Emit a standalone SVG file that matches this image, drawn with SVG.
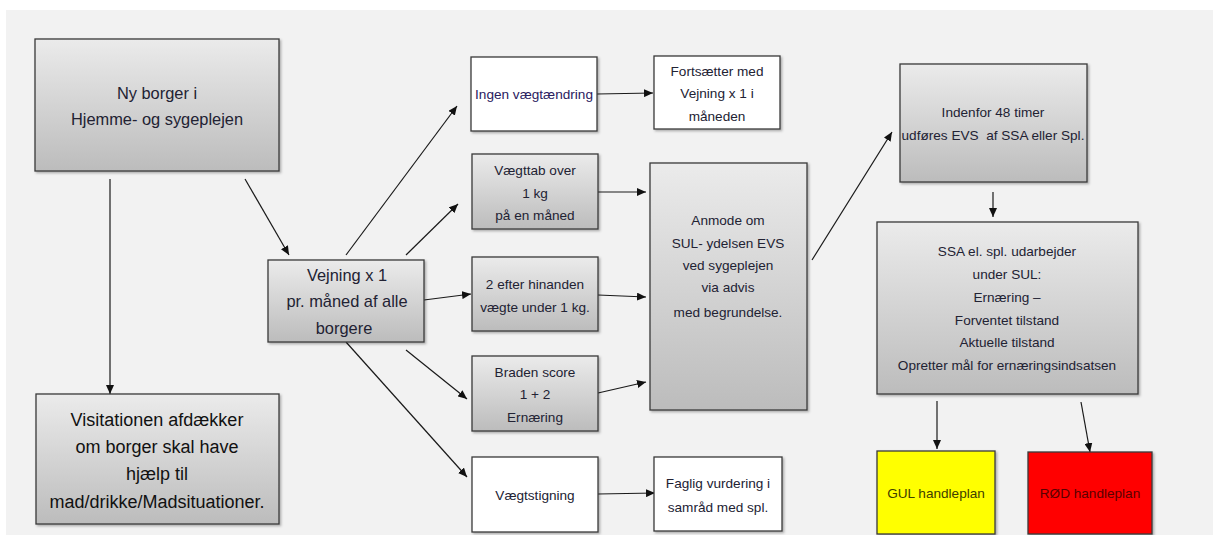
<svg xmlns="http://www.w3.org/2000/svg" width="1213" height="535" viewBox="0 0 1213 535">
<style>
.bg{fill:#f2f2f2}
.box{stroke:#3a3a3a;stroke-width:1.3;filter:url(#sh)}
.g{fill:url(#grad)}
.w{fill:#ffffff}
.t{font-family:"Liberation Sans",Arial,sans-serif;font-size:13.6px;fill:#222233;text-anchor:middle;dominant-baseline:central}
.big{font-size:16.4px}
.ar{font-size:18px;fill:#111111}
.conn line{stroke:#1a1a1a;stroke-width:1.2;fill:none}
.arr{marker-end:url(#ah)}
</style>
<defs>
<linearGradient id="grad" x1="0" y1="0" x2="0" y2="1">
<stop offset="0" stop-color="#ebebeb"/>
<stop offset="1" stop-color="#bcbcbc"/>
</linearGradient>
<filter id="sh" x="-10%" y="-10%" width="125%" height="130%">
<feDropShadow dx="1.5" dy="1.5" stdDeviation="1.2" flood-color="#000" flood-opacity="0.3"/>
</filter>
<marker id="ah" markerUnits="userSpaceOnUse" markerWidth="9" markerHeight="8" refX="9" refY="4" orient="auto">
<path d="M0,0 L9,4 L0,8 z" fill="#111"/>
</marker>
</defs>
<rect class="bg" x="6" y="10" width="1207" height="525"/>

<g class="conn">
<line class="arr" x1="110" y1="179" x2="110" y2="394"/>
<line class="arr" x1="245" y1="179" x2="289" y2="255"/>
<line class="arr" x1="346" y1="255" x2="457" y2="106"/>
<line class="arr" x1="406" y1="255" x2="458" y2="204"/>
<line class="arr" x1="424" y1="300" x2="471" y2="294"/>
<line class="arr" x1="406" y1="350" x2="467" y2="399"/>
<line class="arr" x1="346" y1="342" x2="467" y2="477"/>
<line class="arr" x1="597" y1="94" x2="653" y2="93"/>
<line class="arr" x1="598" y1="192" x2="646" y2="192"/>
<line class="arr" x1="598" y1="295" x2="646" y2="297"/>
<line class="arr" x1="598" y1="393" x2="646" y2="382"/>
<line class="arr" x1="598" y1="494" x2="655" y2="493"/>
<line class="arr" x1="812" y1="260" x2="892" y2="132"/>
<line class="arr" x1="993" y1="192" x2="993" y2="217"/>
<line class="arr" x1="937" y1="401" x2="937" y2="449"/>
<line class="arr" x1="1081" y1="402" x2="1090" y2="452"/>
</g>

<g id="n-ny">
<rect class="box g" x="35" y="39" width="244" height="132"/>
<text class="t big" x="157" y="93">Ny borger i</text>
<text class="t big" x="157" y="119">Hjemme- og sygeplejen</text>
</g>

<g id="n-visitation">
<rect class="box g" x="36" y="394" width="243" height="130"/>
<text class="t ar" x="157" y="420">Visitationen afdækker</text>
<text class="t ar" x="157" y="447">om borger skal have</text>
<text class="t ar" x="157" y="474">hjælp til</text>
<text class="t ar" x="157" y="502">mad/drikke/Madsituationer.</text>
</g>

<g id="n-vejning">
<rect class="box g" x="268" y="260" width="156" height="82"/>
<text class="t big" x="347" y="275">Vejning x 1</text>
<text class="t big" x="347" y="301">pr. måned af alle</text>
<text class="t big" x="344" y="328">borgere</text>
</g>

<g id="n-ingen">
<rect class="box w" x="471" y="57" width="126" height="74"/>
<text class="t" x="534" y="94" style="fill:#2a2060">Ingen vægtændring</text>
</g>

<g id="n-fortsaetter">
<rect class="box w" x="654" y="56" width="126" height="73"/>
<text class="t" x="717" y="71">Fortsætter med</text>
<text class="t" x="717" y="93">Vejning x 1 i</text>
<text class="t" x="717" y="116">måneden</text>
</g>

<g id="n-vaegttab">
<rect class="box g" x="472" y="154" width="126" height="75"/>
<text class="t" x="535" y="170">Vægttab over</text>
<text class="t" x="535" y="193">1 kg</text>
<text class="t" x="535" y="215">på en måned</text>
</g>

<g id="n-toefter">
<rect class="box g" x="472" y="257" width="126" height="74"/>
<text class="t" x="535" y="284">2 efter hinanden</text>
<text class="t" x="535" y="307">vægte under 1 kg.</text>
</g>

<g id="n-braden">
<rect class="box g" x="472" y="356" width="126" height="75"/>
<text class="t" x="535" y="372">Braden score</text>
<text class="t" x="535" y="394">1 + 2</text>
<text class="t" x="535" y="417">Ernæring</text>
</g>

<g id="n-vaegtstigning">
<rect class="box w" x="472" y="457" width="126" height="75"/>
<text class="t" x="535" y="495">Vægtstigning</text>
</g>

<g id="n-faglig">
<rect class="box w" x="654" y="457" width="128" height="74"/>
<text class="t" x="718" y="483">Faglig vurdering i</text>
<text class="t" x="718" y="507">samråd med spl.</text>
</g>

<g id="n-anmode">
<rect class="box g" x="650" y="163" width="157" height="247"/>
<text class="t" x="728" y="220">Anmode om</text>
<text class="t" x="728" y="243">SUL- ydelsen EVS</text>
<text class="t" x="728" y="265">ved sygeplejen</text>
<text class="t" x="728" y="287">via advis</text>
<text class="t" x="728" y="312">med begrundelse.</text>
</g>

<g id="n-indenfor">
<rect class="box g" x="900" y="64" width="187" height="118"/>
<text class="t" x="993" y="112">Indenfor 48 timer</text>
<text class="t" x="993" y="135" xml:space="preserve">udføres EVS  af SSA eller Spl.</text>
</g>

<g id="n-ssa">
<rect class="box g" x="877" y="222" width="261" height="172"/>
<text class="t" x="1007" y="251">SSA el. spl. udarbejder</text>
<text class="t" x="1007" y="274">under SUL:</text>
<text class="t" x="1007" y="297">Ernæring –</text>
<text class="t" x="1007" y="320">Forventet tilstand</text>
<text class="t" x="1007" y="342">Aktuelle tilstand</text>
<text class="t" x="1007" y="365">Opretter mål for ernæringsindsatsen</text>
</g>

<g id="n-gul">
<rect class="box" x="877" y="451" width="118" height="83" fill="#ffff00"/>
<text class="t" x="936" y="493" style="fill:#404000">GUL handleplan</text>
</g>

<g id="n-roed">
<rect class="box" x="1028" y="452" width="124" height="82" fill="#ff0000"/>
<text class="t" x="1090" y="493" style="fill:#5a0000">RØD handleplan</text>
</g>
</svg>
